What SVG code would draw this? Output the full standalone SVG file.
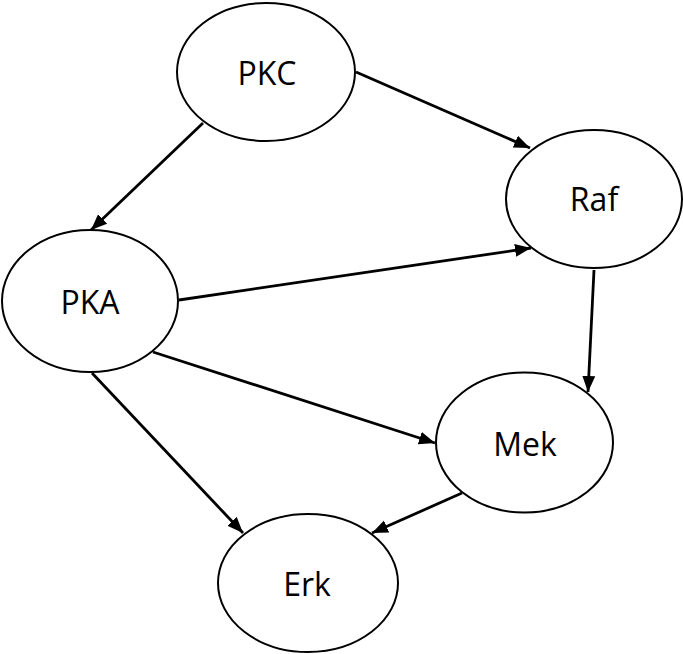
<svg xmlns="http://www.w3.org/2000/svg" width="683" height="654" viewBox="0 0 683 654">
<style>
.node ellipse{fill:#fff;stroke:#000;stroke-width:2}
.node text{font-family:"Open Sans","Liberation Sans",sans-serif;font-size:32px;fill:#000;text-anchor:middle}
.edge{stroke:#000;stroke-width:2.8;fill:none;marker-end:url(#arr)}
</style>
<defs>
<marker id="arr" markerUnits="userSpaceOnUse" markerWidth="16" markerHeight="14" refX="16" refY="7" orient="auto">
<path d="M0,0.5 L16,7 L0,13.5 z" fill="#000"/>
</marker>
</defs>
<rect width="683" height="654" fill="#fff"/>
<g id="PKC" class="node"><ellipse cx="266" cy="72" rx="89" ry="69"/><text x="267" y="85">PKC</text></g>
<g id="Raf" class="node"><ellipse cx="594" cy="199" rx="88" ry="69"/><text x="594" y="211">Raf</text></g>
<g id="PKA" class="node"><ellipse cx="90" cy="301" rx="88" ry="71"/><text x="90" y="314">PKA</text></g>
<g id="Mek" class="node"><ellipse cx="524.5" cy="442.5" rx="88.5" ry="70"/><text x="525" y="456">Mek</text></g>
<g id="Erk" class="node"><ellipse cx="308" cy="583" rx="90" ry="69"/><text x="307" y="596">Erk</text></g>
<g id="connectors">
<line class="edge" x1="356" y1="72" x2="530" y2="148"/>
<line class="edge" x1="203" y1="123" x2="91" y2="230"/>
<line class="edge" x1="179" y1="300" x2="531" y2="248"/>
<line class="edge" x1="594" y1="270" x2="588" y2="392"/>
<line class="edge" x1="153" y1="352" x2="435" y2="443"/>
<line class="edge" x1="92" y1="373" x2="243" y2="533"/>
<line class="edge" x1="462" y1="493" x2="372" y2="533"/>
</g>
</svg>
